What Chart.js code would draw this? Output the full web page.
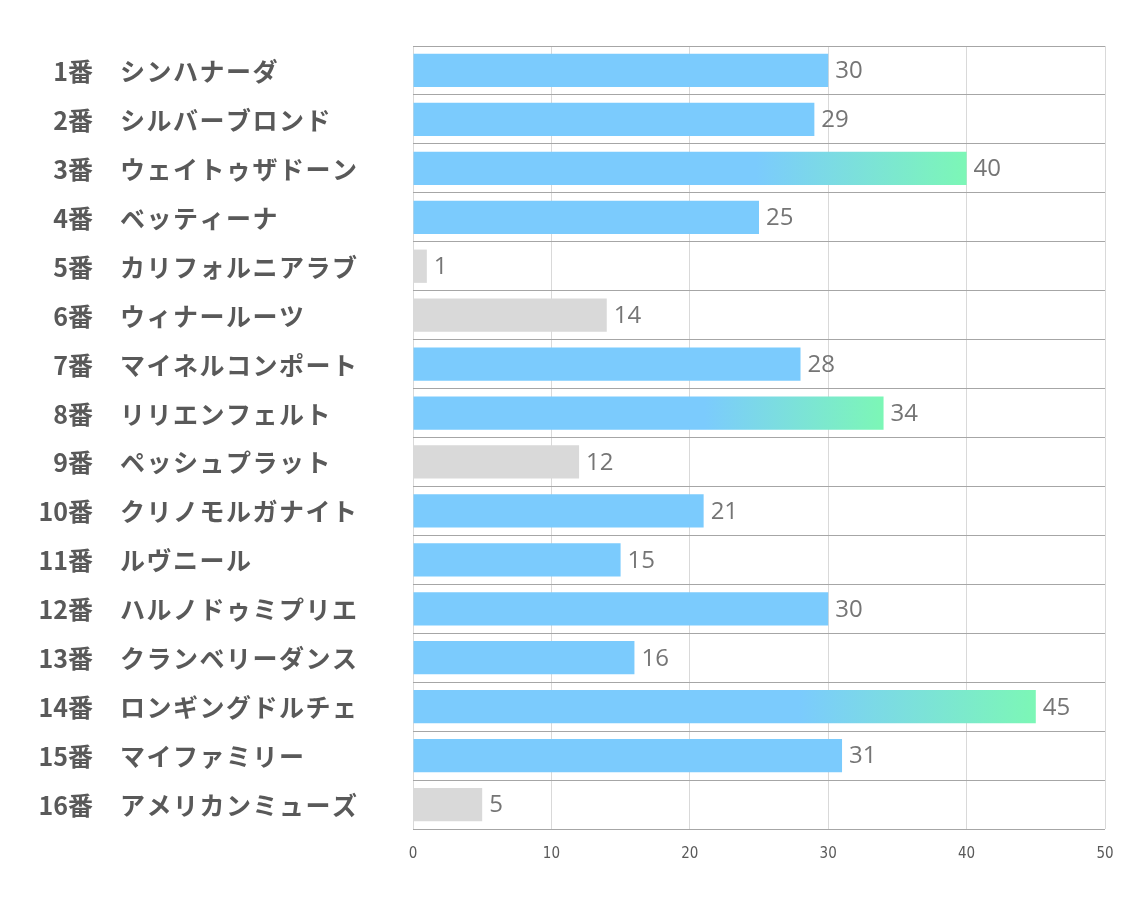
<!DOCTYPE html>
<html>
<head>
<meta charset="utf-8">
<style>
  *{margin:0;padding:0;box-sizing:border-box}
  html,body{width:1134px;height:907px;background:#fff;overflow:hidden}
  .wrap{position:relative;width:1134px;height:907px}
</style>
</head>
<body>
<div class="wrap"><canvas id="chart"></canvas></div>
<script src="https://cdn.jsdelivr.net/npm/chart.js@4/dist/chart.umd.min.js"></script>
<script>
// ─── Data ─────────────────────────────────────────────
const horseNumbers = ["1番","2番","3番","4番","5番","6番","7番","8番","9番","10番","11番","12番","13番","14番","15番","16番"];
const horseNames = ["シンハナーダ","シルバーブロンド","ウェイトゥザドーン","ベッティーナ","カリフォルニアラブ","ウィナールーツ","マイネルコンポート","リリエンフェルト","ペッシュプラット","クリノモルガナイト","ルヴニール","ハルノドゥミプリエ","クランベリーダンス","ロンギングドルチェ","マイファミリー","アメリカンミューズ"];
const scores = [30, 29, 40, 25, 1, 14, 28, 34, 12, 21, 15, 30, 16, 45, 31, 5];
const groups = ["mid","mid","top","mid","low","low","mid","top","low","mid","mid","mid","mid","top","mid","low"];
const xTicks = [0, 10, 20, 30, 40, 50];

// ─── Colors ───────────────────────────────────────────
const BLUE = "#7bcbfd";
const GREEN = "#7cf7b6";
const GRAY = "#d9d9d9";

function barColor(ctx) {
  const g = groups[ctx.dataIndex];
  if (g === "low") return GRAY;
  if (g === "mid") return BLUE;
  const chart = ctx.chart;
  const x = chart.scales.x;
  if (!x) return BLUE;
  const x0 = x.getPixelForValue(0);
  const x1 = x.getPixelForValue(scores[ctx.dataIndex]);
  const grad = chart.ctx.createLinearGradient(x0, 0, x1, 0);
  grad.addColorStop(0, BLUE);
  grad.addColorStop(0.62, BLUE);
  grad.addColorStop(1, GREEN);
  return grad;
}

// y labels: number right-aligned, name left-aligned
const rowLabels = {
  id: "rowLabels",
  afterDraw(chart) {
    const c = chart.ctx;
    const y = chart.scales.y;
    c.save();
    c.fillStyle = "#595959";
    c.textBaseline = "middle";
    horseNumbers.forEach((n, i) => {
      const py = y.getPixelForTick(i) + 1;
      c.letterSpacing = "0px";
      c.font = "bold 25px 'Noto Sans CJK JP', sans-serif";
      c.textAlign = "right";
      c.fillText(n, 93, py);
      c.letterSpacing = "1.5px";
      c.font = "bold 25px 'Noto Sans CJK JP', sans-serif";
      c.textAlign = "left";
      c.fillText(horseNames[i], 120, py);
    });
    c.restore();
  }
};

// value labels at bar ends
const valueLabels = {
  id: "valueLabels",
  afterDatasetsDraw(chart) {
    const c = chart.ctx;
    const meta = chart.getDatasetMeta(0);
    c.save();
    c.fillStyle = "#757575";
    c.textBaseline = "middle";
    c.textAlign = "left";
    c.font = "24px 'Open Sans', sans-serif";
    meta.data.forEach((bar, i) => {
      c.fillText(String(scores[i]), bar.x + 7, bar.y + 1);
    });
    c.restore();
  }
};

const ctx = document.getElementById("chart").getContext("2d");
new Chart(ctx, {
  type: "bar",
  data: {
    labels: horseNames,
    datasets: [{
      data: scores,
      backgroundColor: barColor,
      borderWidth: 0,
      barPercentage: 0.68,
      categoryPercentage: 1
    }]
  },
  options: {
    indexAxis: "y",
    responsive: true,
    maintainAspectRatio: false,
    animation: false,
    layout: { padding: { top: 46, right: 29, left: 0, bottom: 0 } },
    plugins: { legend: { display: false }, tooltip: { enabled: false } },
    scales: {
      x: {
        min: 0,
        max: 50,
        afterBuildTicks: (s) => { s.ticks = xTicks.map(v => ({ value: v })); },
        afterFit: (s) => { s.height = 78; },
        grid: { color: "#d9d9d9", drawTicks: false, lineWidth: 1 },
        border: { display: false },
        ticks: {
          color: "#595959",
          font: { size: 15, family: "'Liberation Sans Narrow', 'DejaVu Sans Condensed', sans-serif" },
          padding: 16
        }
      },
      y: {
        afterFit: (s) => { s.width = 413; },
        grid: { color: "#a6a6a6", drawTicks: false, offset: true, lineWidth: 1 },
        border: { display: false },
        ticks: { display: false }
      }
    }
  },
  plugins: [rowLabels, valueLabels]
});
</script>
</body>
</html>
